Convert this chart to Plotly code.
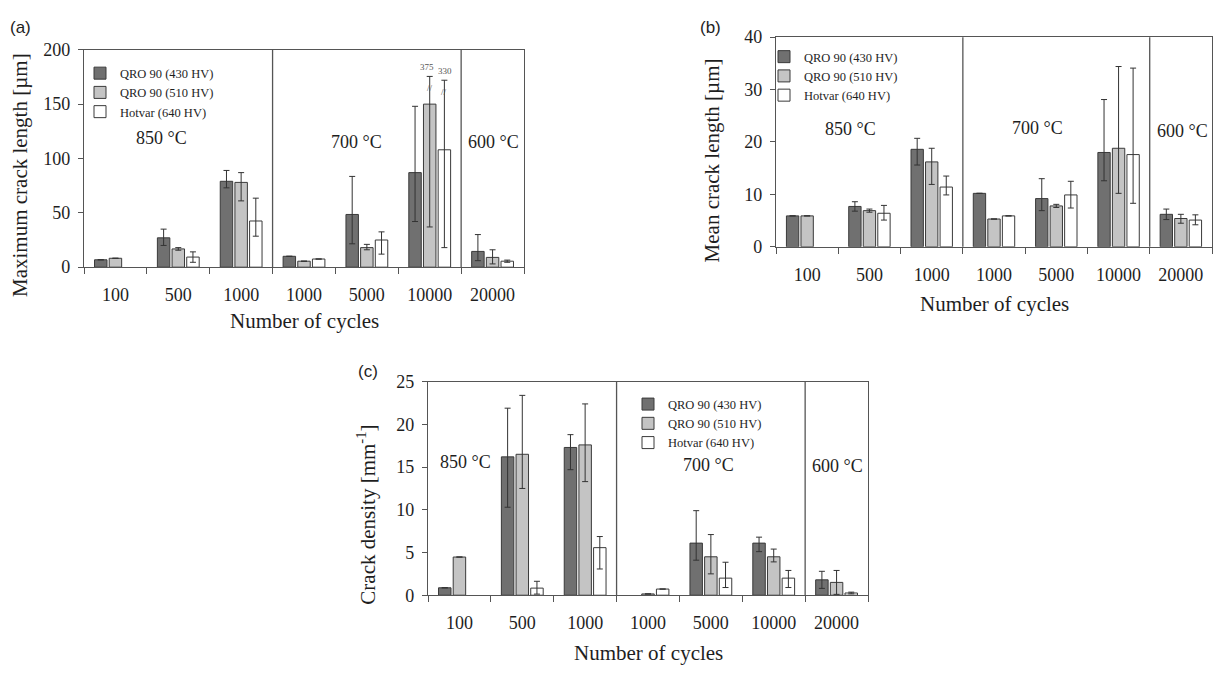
import plotly.graph_objects as go

# ---------------- data ----------------
cycles = ["100", "500", "1000", "1000", "5000", "10000", "20000"]
temps = ["850 °C", "700 °C", "600 °C"]
group_sizes = [3, 3, 1]
series_names = ["QRO 90 (430 HV)", "QRO 90 (510 HV)", "Hotvar (640 HV)"]

# (a) maximum crack length [µm]
a_qro430 = [6.8, 27, 79, 10, 48.5, 87, 14.5]
a_qro430_up = [0, 8, 10, 0, 35, 61, 15.5]
a_qro430_dn = [0, 7, 6, 0, 27, 45, 8.5]
a_qro510 = [8.2, 16.8, 78, 5.5, 18, 150, 9]
a_qro510_up = [0, 1.2, 9, 0, 3, 25.5, 7]
a_qro510_dn = [0, 1.2, 17, 0, 2, 113, 6]
a_hot = [None, 9.3, 42.5, 7.5, 25, 108, 5.5]
a_hot_up = [0, 4.8, 21, 0, 7.5, 64, 1]
a_hot_dn = [0, 4.8, 14, 0, 13, 90, 1]
a_offscale_labels = ["375", "330"]   # true upper limits of the broken error bars (10000 cycles)

# (b) mean crack length [µm]
b_qro430 = [5.9, 7.7, 18.6, 10.2, 9.2, 18.0, 6.2]
b_qro430_up = [0, 0.9, 2.1, 0, 3.8, 10.1, 1.0]
b_qro430_dn = [0, 0.9, 3.0, 0, 2.3, 5.4, 1.0]
b_qro510 = [5.9, 6.9, 16.2, 5.3, 7.8, 18.8, 5.4]
b_qro510_up = [0, 0.3, 2.6, 0, 0.3, 15.6, 0.8]
b_qro510_dn = [0, 0.3, 4.3, 0, 0.3, 8.6, 0.9]
b_hot = [None, 6.4, 11.4, 5.9, 9.9, 17.6, 5.1]
b_hot_up = [0, 1.5, 2.1, 0, 2.6, 16.5, 1.0]
b_hot_dn = [0, 1.3, 1.5, 0, 2.5, 9.3, 0.9]

# (c) crack density [mm^-1]
c_qro430 = [0.87, 16.2, 17.3, None, 6.1, 6.1, 1.8]
c_qro430_up = [0, 5.7, 1.5, 0, 3.8, 0.7, 1.0]
c_qro430_dn = [0, 5.9, 2.6, 0, 2.0, 1.0, 1.0]
c_qro510 = [4.47, 16.5, 17.6, 0.15, 4.5, 4.5, 1.5]
c_qro510_up = [0, 6.9, 4.8, 0, 2.6, 0.9, 1.4]
c_qro510_dn = [0, 4.0, 4.3, 0, 2.0, 0.6, 1.4]
c_hot = [None, 0.83, 5.57, 0.72, 2.0, 2.0, 0.26]
c_hot_up = [0, 0.8, 1.3, 0, 1.86, 0.9, 0.1]
c_hot_dn = [0, 0.7, 2.5, 0, 1.1, 1.1, 0.1]

# ---------------- style ----------------
W, H = 1215, 678
SERIF = "Liberation Serif, Times New Roman, serif"
SANS = "Liberation Sans, Arial, sans-serif"
TC = "#1e1e1e"
LC = "#555555"
fills = ["#707070", "#c4c4c4", "#ffffff"]
BARGAP = 0.3


def px(x):
    return x / W


def py(y):
    return 1 - y / H


fig = go.Figure()
xs = list(range(len(cycles)))

panels = [
    ("", "legend", [(a_qro430, a_qro430_up, a_qro430_dn), (a_qro510, a_qro510_up, a_qro510_dn),
                    (a_hot, a_hot_up, a_hot_dn)]),
    ("2", "legend2", [(b_qro430, b_qro430_up, b_qro430_dn), (b_qro510, b_qro510_up, b_qro510_dn),
                      (b_hot, b_hot_up, b_hot_dn)]),
    ("3", "legend3", [(c_qro430, c_qro430_up, c_qro430_dn), (c_qro510, c_qro510_up, c_qro510_dn),
                      (c_hot, c_hot_up, c_hot_dn)]),
]

for suffix, leg, series in panels:
    for k, (vals, up, dn) in enumerate(series):
        fig.add_trace(go.Bar(
            x=xs, y=vals, name=series_names[k], legend=leg,
            xaxis="x" + suffix, yaxis="y" + suffix,
            marker=dict(color=fills[k], line=dict(color="#3a3a3a", width=1)),
            error_y=dict(type="data", symmetric=False, array=up, arrayminus=dn,
                         color="#333333", thickness=1, width=3),
        ))

boundaries = [i - 0.5 for i in range(len(cycles) + 1)]
xcommon = dict(
    range=[-0.5, len(cycles) - 0.5], tickmode="array", tickvals=xs, ticktext=cycles,
    ticks="", showline=True, linecolor=LC, linewidth=1.3, mirror=True,
    showgrid=False, zeroline=False,
    tickfont=dict(size=18, family=SERIF, color=TC), ticklabelstandoff=11,
    minor=dict(tickmode="array", tickvals=boundaries, ticks="outside", ticklen=6,
               tickcolor=LC, tickwidth=1.3, showgrid=False),
)
ycommon = dict(
    ticks="outside", ticklen=5, tickcolor=LC, tickwidth=1.3, showline=True, linecolor=LC,
    linewidth=1.3, mirror=True, showgrid=False, zeroline=False,
    tickfont=dict(size=18, family=SERIF, color=TC), ticklabelstandoff=4,
)

# pixel boxes of the three plot areas: (left, right, top, bottom)
boxes = [(84, 524, 41, 265), (776, 1212, 28, 244), (428, 868, 383, 603)]
yranges = [(200, 50), (40, 10), (25, 5)]

layout = dict(width=W, height=H, margin=dict(l=0, r=0, t=0, b=0),
              paper_bgcolor="white", plot_bgcolor="white",
              barmode="group", bargap=BARGAP, bargroupgap=0.15,
              font=dict(family=SERIF, color=TC))
for i, (box, (ymax, dt)) in enumerate(zip(boxes, yranges)):
    s = "" if i == 0 else str(i + 1)
    l, r, t, b = box
    layout["xaxis" + s] = dict(xcommon, domain=[px(l), px(r)], anchor="y" + s)
    layout["yaxis" + s] = dict(ycommon, domain=[py(b), py(t)], anchor="x" + s,
                               range=[0, ymax], dtick=dt)

# legends (one per panel)
legpos = [(80, 50), (764, 33), (628, 391)]
for i, (lx, ly) in enumerate(legpos):
    name = "legend" if i == 0 else "legend" + str(i + 1)
    layout[name] = dict(x=px(lx), y=py(ly), xanchor="left", yanchor="top",
                        bgcolor="rgba(0,0,0,0)", borderwidth=0,
                        font=dict(size=12.5, family=SERIF, color=TC),
                        tracegroupgap=0, itemclick=False)

fig.update_layout(**layout)

# temperature-group separators at the boundaries between groups
cum = 0
for gsz in group_sizes[:-1]:
    cum += gsz
    for s in ["", "2", "3"]:
        fig.add_shape(type="line", xref="x" + s, yref="y" + s + " domain",
                      x0=cum - 0.5, x1=cum - 0.5, y0=0, y1=1,
                      line=dict(color=LC, width=1.3))

# temperature labels
temp_pos = [
    [(161, 132), (356, 136), (493, 136)],
    [(850, 123), (1037, 122), (1182, 125)],
    [(465, 466), (708, 469), (837, 470)],
]
for row in temp_pos:
    for (tx, ty), txt in zip(row, temps):
        fig.add_annotation(x=px(tx), y=py(ty), xref="paper", yref="paper", text=txt,
                           showarrow=False, font=dict(size=18, family=SERIF, color=TC),
                           xanchor="center", yanchor="middle")

# axis titles
for (tx, ty) in [(304, 320), (994, 303), (648, 663)]:
    fig.add_annotation(x=px(tx), y=py(ty), xref="paper", yref="paper", text="Number of cycles",
                       showarrow=False, font=dict(size=21, family=SERIF, color=TC),
                       xanchor="center", yanchor="middle")
ytitles = [("Maximum crack length [µm]", 20, 170), ("Mean crack length [µm]", 712, 155),
           ("Crack density [mm<sup>-1</sup>]", 367, 520)]
for txt, tx, ty in ytitles:
    fig.add_annotation(x=px(tx), y=py(ty), xref="paper", yref="paper", text=txt, textangle=-90,
                       showarrow=False, font=dict(size=21, family=SERIF, color=TC),
                       xanchor="center", yanchor="middle")

# panel letters
for txt, tx, ty in [("(a)", 20, 18), ("(b)", 710, 18), ("(c)", 368, 372)]:
    fig.add_annotation(x=px(tx), y=py(ty), xref="paper", yref="paper", text=txt,
                       showarrow=False, font=dict(size=17, family=SANS, color=TC),
                       xanchor="center", yanchor="middle")

# off-scale error bar labels and break marks in (a), at 10000 cycles
idx = cycles.index("10000")
slot = (1 - BARGAP) / 3
tops = [a_qro510[idx] + a_qro510_up[idx], a_hot[idx] + a_hot_up[idx]]
for k, (lab, top) in enumerate(zip(a_offscale_labels, tops)):
    xb = idx + k * slot
    fig.add_annotation(x=xb, y=top, xref="x", yref="y", text=lab, showarrow=False,
                       yanchor="bottom", yshift=2, xshift=-3 + 4 * k,
                       font=dict(size=9, family=SERIF, color="#555555"))
    fig.add_annotation(x=xb, y=top - 11, xref="x", yref="y", text="//", showarrow=False,
                       yanchor="middle", font=dict(size=9, family=SERIF, color="#555555"))

fig.write_html("out.html", config={"displayModeBar": False},
               post_script="document.body.style.margin='0';document.body.style.overflow='hidden';")
